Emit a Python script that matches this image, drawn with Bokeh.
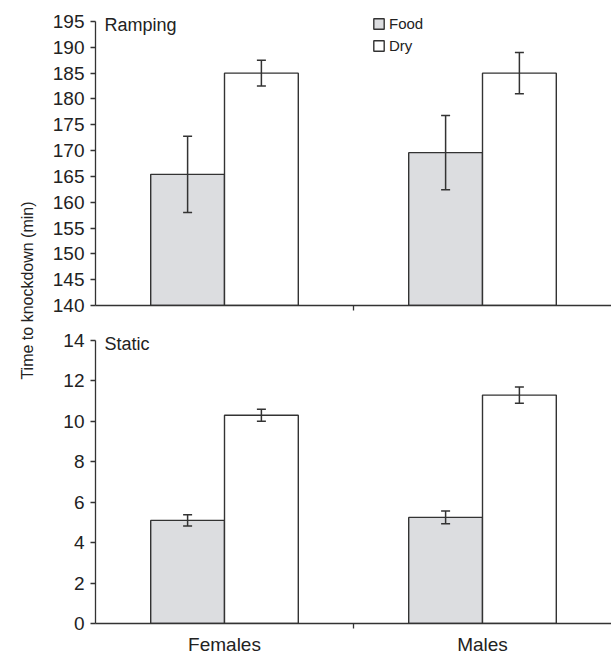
import numpy as np
from bokeh.plotting import figure
from bokeh.layouts import row, column
from bokeh.models import (ColumnDataSource, Whisker, TeeHead, FixedTicker, Legend,
                          LegendItem, Label, Range1d)
from bokeh.core.properties import value
from bokeh.embed import file_html
from bokeh.resources import INLINE

groups = ["Females", "Males"]
treatments = ["Food", "Dry"]

ramp_food = [165.4, 169.6]
ramp_food_se = [7.4, 7.2]
ramp_dry = [185.0, 185.0]
ramp_dry_se = [2.5, 4.0]

static_food = [5.1, 5.25]
static_food_se = [0.28, 0.31]
static_dry = [10.3, 11.3]
static_dry_se = [0.3, 0.4]

ramp_ticks = [140, 145, 150, 155, 160, 165, 170, 175, 180, 185, 190, 195]
static_ticks = [0, 2, 4, 6, 8, 10, 12, 14]

FONT = "Liberation Sans"
LINE = "#333333"
TEXT = "#222222"
FOOD_FILL = "#dcdde0"
DRY_FILL = "#ffffff"
BAR_W = 0.286
HEADROOM = 10  # px of frame above the top tick, so texts there are not clipped


def make_panel(food, food_se, dry, dry_se, yticks, title, show_labels, top_px, axis_px, bot_px):
    ymin, ymax = yticks[0], yticks[-1]
    ext = (ymax - ymin) * HEADROOM / axis_px
    p = figure(frame_width=516, frame_height=axis_px + HEADROOM,
               x_range=Range1d(0.5, 2.5), y_range=Range1d(ymin, ymax + ext),
               output_backend="svg", toolbar_location=None,
               min_border_left=55, min_border_right=0,
               min_border_top=top_px - HEADROOM, min_border_bottom=bot_px)
    p.outline_line_color = None
    p.xgrid.visible = False
    p.ygrid.visible = False
    p.background_fill_color = "white"
    p.border_fill_color = "white"

    gx = np.arange(1, len(groups) + 1)
    xf = gx - BAR_W / 2
    xd = gx + BAR_W / 2
    src_f = ColumnDataSource(dict(x=xf, top=food, upper=np.array(food) + np.array(food_se),
                                  lower=np.array(food) - np.array(food_se)))
    src_d = ColumnDataSource(dict(x=xd, top=dry, upper=np.array(dry) + np.array(dry_se),
                                  lower=np.array(dry) - np.array(dry_se)))
    rf = p.vbar(x="x", top="top", bottom=ymin, width=BAR_W, source=src_f,
                fill_color=FOOD_FILL, line_color=LINE, line_width=1.4)
    rd = p.vbar(x="x", top="top", bottom=ymin, width=BAR_W, source=src_d,
                fill_color=DRY_FILL, line_color=LINE, line_width=1.4)
    for src in (src_f, src_d):
        w = Whisker(source=src, base="x", upper="upper", lower="lower",
                    dimension="height", line_color=LINE, line_width=1.5, level="overlay",
                    upper_head=TeeHead(size=9, line_color=LINE, line_width=1.5),
                    lower_head=TeeHead(size=9, line_color=LINE, line_width=1.5))
        p.add_layout(w)

    p.yaxis.ticker = FixedTicker(ticks=yticks)
    p.yaxis.bounds = (ymin, ymax)
    p.yaxis.axis_line_color = LINE
    p.yaxis.axis_line_width = 1.3
    p.yaxis.major_tick_line_color = LINE
    p.yaxis.major_tick_line_width = 1.3
    p.yaxis.major_tick_out = 5
    p.yaxis.major_tick_in = 0
    p.yaxis.minor_tick_line_color = None
    p.yaxis.major_label_text_font = FONT
    p.yaxis.major_label_text_font_size = "19px"
    p.yaxis.major_label_text_color = TEXT
    p.yaxis.major_label_standoff = 6

    if show_labels:
        p.xaxis.ticker = FixedTicker(ticks=list(gx), minor_ticks=[1.5])
    else:
        p.xaxis.ticker = FixedTicker(ticks=[], minor_ticks=[1.5])
    p.xaxis.axis_line_color = LINE
    p.xaxis.axis_line_width = 1.3
    p.xaxis.major_tick_line_color = None
    p.xaxis.major_tick_out = 0
    p.xaxis.major_tick_in = 0
    p.xaxis.minor_tick_line_color = LINE
    p.xaxis.minor_tick_line_width = 1.3
    p.xaxis.minor_tick_out = 5
    p.xaxis.minor_tick_in = 0
    p.xaxis.major_label_overrides = {int(g): n for g, n in zip(gx, groups)}
    p.xaxis.major_label_text_font = FONT
    p.xaxis.major_label_text_color = TEXT
    p.xaxis.major_label_text_font_size = "19px"
    p.xaxis.major_label_standoff = 5 if show_labels else 0

    p.add_layout(Label(x=0.5, y=ymax, x_offset=9, y_offset=-3, text=title, text_font=FONT,
                       text_font_size="18px", text_color=TEXT, text_baseline="middle"))
    return p, rf, rd


top, rf, rd = make_panel(ramp_food, ramp_food_se, ramp_dry, ramp_dry_se,
                         ramp_ticks, "Ramping", False, 21, 284, 15)
legend = Legend(items=[LegendItem(label=treatments[0], renderers=[rf]),
                       LegendItem(label=treatments[1], renderers=[rd])],
                location=(277, 251), orientation="vertical",
                glyph_width=13, glyph_height=13, label_height=13, spacing=5,
                label_standoff=4, padding=0, margin=0,
                border_line_color=None, background_fill_alpha=0,
                label_text_font=FONT, label_text_font_size="15px",
                label_text_color=TEXT)
top.add_layout(legend)

bottom, _, _ = make_panel(static_food, static_food_se, static_dry, static_dry_se,
                          static_ticks, "Static", True, 20, 283, 31)

lab = figure(width=40, height=654, x_range=Range1d(0, 40), y_range=Range1d(0, 654),
             output_backend="svg", toolbar_location=None,
             min_border=0, min_border_left=0, min_border_right=0,
             min_border_top=0, min_border_bottom=0)
lab.axis.visible = False
lab.grid.visible = False
lab.outline_line_color = None
lab.text(x=[27], y=[364], text=["Time to knockdown (min)"], angle=np.pi / 2,
         text_font=value(FONT), text_font_size="16px", text_color=TEXT,
         text_align="center", text_baseline="middle")

layout = row(lab, column(top, bottom, spacing=0), spacing=0)
open("out.html", "w").write(file_html(layout, INLINE))
